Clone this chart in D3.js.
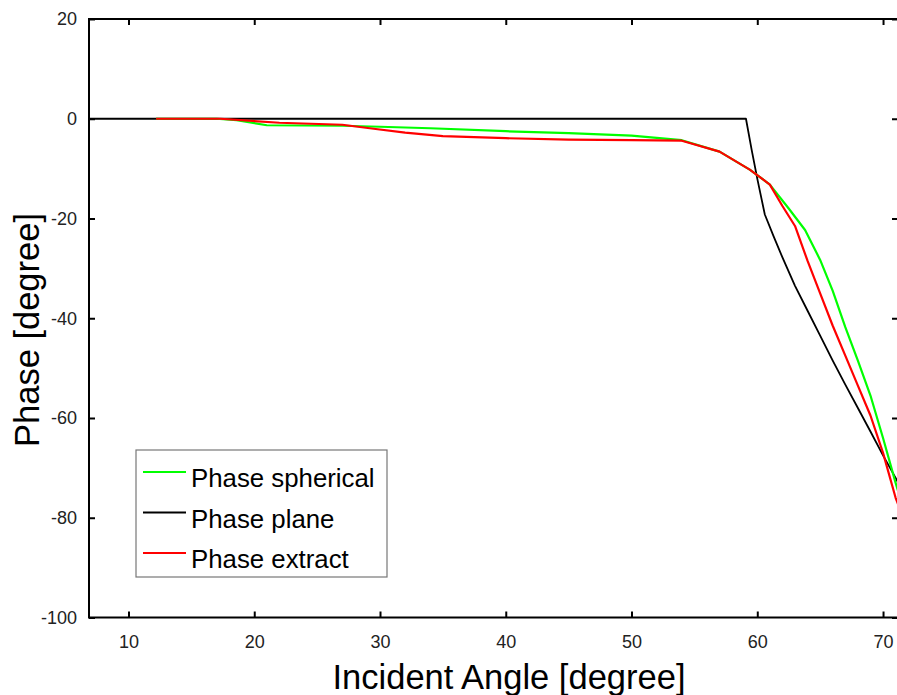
<!DOCTYPE html>
<html>
<head>
<meta charset="utf-8">
<script src="https://cdn.jsdelivr.net/npm/d3@7"></script>
<style>
  body { margin: 0; background: #fff; }
  svg { display: block; font-family: "Liberation Sans", Arial, sans-serif; }
</style>
</head>
<body>
<div id="chart"></div>
<script>
// series values: [angle, phase]
const phaseSpherical = [
    [12.2, 0], [17, 0], [18.6, -0.3], [21, -1.3], [27, -1.4], [30, -1.6], [34, -1.9],
    [40, -2.5], [45, -2.9], [50, -3.4], [54, -4.3], [57, -6.6], [59.4, -10.2], [61, -13.2],
    [62.5, -18], [63.8, -22.3], [65, -28.3], [66, -34.5], [67, -41.8], [68, -48.5],
    [69, -55.5], [70, -64], [71, -73], [71.3, -75.5]
];
const phasePlane = [
    [6.86, 0], [59.1, 0], [59.55, -6.2], [60, -12], [60.6, -19.2], [61.3, -23.6], [62, -27.8],
    [63, -33.5], [64, -38.5], [65, -43.5], [66, -48.5], [67, -53.3], [68, -58], [69, -62.7],
    [70, -67.5], [71, -72], [71.3, -73.5]
];
const phaseExtract = [
    [12.2, 0], [17.3, 0], [22, -0.8], [27, -1.2], [29.5, -2.0], [32, -2.8], [35, -3.5],
    [40, -3.9], [45, -4.2], [50, -4.3], [54, -4.4], [57, -6.6], [59.4, -10.2], [61, -13.2],
    [62, -17.5], [63, -21.5], [64, -28.5], [65, -35], [66, -41.5], [67, -47.5], [68, -53.5],
    [69, -59.5], [70, -67], [71, -76], [71.3, -78]
];
const seriesNames = ["Phase spherical", "Phase plane", "Phase extract"];
const seriesColors = ["#00ff00", "#000000", "#ff0000"];
const xTicks = [10, 20, 30, 40, 50, 60, 70];
const yTicks = [20, 0, -20, -40, -60, -80, -100];

const width = 897;
const height = 695;
// plot box (right edge sits just outside the picture, like the source crop)
let box = { left: 89, right: 898, top: 19, bottom: 617.5 };

let svg = d3.select("#chart")
    .append("svg")
    .attr("width", width)
    .attr("height", height);

let x = d3.scaleLinear().domain([6.86, 71.19]).range([box.left, box.right]);
let y = d3.scaleLinear().domain([-100, 20]).range([box.bottom, box.top]);

// clip lines to the plot box
svg.append("clipPath").attr("id", "clip")
    .append("rect")
    .attr("x", box.left).attr("y", box.top)
    .attr("width", box.right - box.left).attr("height", box.bottom - box.top);

let tickLen = 6;
// plain hyphen for negatives, as in the source
let fmt = d => String(d);

// bottom axis with labels, ticks pointing inward
svg.append("g")
    .attr("transform", `translate(0,${box.bottom})`)
    .call(d3.axisBottom(x).tickValues(xTicks).tickSize(-tickLen).tickPadding(18).tickFormat(fmt))
    .call(g => g.select(".domain").remove())
    .call(g => g.selectAll("line").attr("stroke", "#000").attr("stroke-width", 2))
    .call(g => g.selectAll("text").attr("font-size", 18).attr("fill", "#222").attr("font-family", null));

// top axis, ticks only
svg.append("g")
    .attr("transform", `translate(0,${box.top})`)
    .call(d3.axisTop(x).tickValues(xTicks).tickSize(-tickLen).tickFormat(""))
    .call(g => g.select(".domain").remove())
    .call(g => g.selectAll("line").attr("stroke", "#000").attr("stroke-width", 2));

// left axis with labels
svg.append("g")
    .attr("transform", `translate(${box.left},0)`)
    .call(d3.axisLeft(y).tickValues(yTicks).tickSize(-tickLen).tickPadding(12).tickFormat(fmt))
    .call(g => g.select(".domain").remove())
    .call(g => g.selectAll("line").attr("stroke", "#000").attr("stroke-width", 2))
    .call(g => g.selectAll("text").attr("font-size", 18).attr("fill", "#222").attr("font-family", null));

// right axis, ticks only
svg.append("g")
    .attr("transform", `translate(${box.right},0)`)
    .call(d3.axisRight(y).tickValues(yTicks).tickSize(-tickLen).tickFormat(""))
    .call(g => g.select(".domain").remove())
    .call(g => g.selectAll("line").attr("stroke", "#000").attr("stroke-width", 2));

// data lines
let line = d3.line().x(d => x(d[0])).y(d => y(d[1]));
let allSeries = [phaseSpherical, phasePlane, phaseExtract];
let drawOrder = [1, 0, 2];
drawOrder.forEach(i => {
    svg.append("path")
        .datum(allSeries[i])
        .attr("clip-path", "url(#clip)")
        .attr("fill", "none")
        .attr("stroke", seriesColors[i])
        .attr("stroke-width", i == 1 ? 1.8 : 2.2)
        .attr("stroke-linejoin", "round")
        .attr("d", line);
});

// plot box frame
svg.append("rect")
    .attr("x", box.left).attr("y", box.top)
    .attr("width", box.right - box.left).attr("height", box.bottom - box.top)
    .attr("fill", "none")
    .attr("stroke", "#000")
    .attr("stroke-width", 2);

// axis titles
svg.append("text")
    .attr("x", 509)
    .attr("y", 689)
    .attr("text-anchor", "middle")
    .attr("font-size", 34.5)
    .attr("fill", "#000")
    .text("Incident Angle [degree]");

svg.append("text")
    .attr("transform", "translate(39,330) rotate(-90)")
    .attr("text-anchor", "middle")
    .attr("font-size", 34.5)
    .attr("fill", "#000")
    .text("Phase [degree]");

// legend
let legend = svg.append("g").attr("transform", "translate(136,450)");
legend.append("rect")
    .attr("x", 0).attr("y", 0)
    .attr("width", 251).attr("height", 127)
    .attr("fill", "#fff")
    .attr("stroke", "#777")
    .attr("stroke-width", 1.2);

seriesNames.forEach((name, i) => {
    let ly = 22 + i * 40.5;
    legend.append("line")
        .attr("x1", 7).attr("x2", 50)
        .attr("y1", ly).attr("y2", ly)
        .attr("stroke", seriesColors[i])
        .attr("stroke-width", 2.2);
    legend.append("text")
        .attr("x", 55)
        .attr("y", ly + 15)
        .attr("font-size", 25.8)
        .attr("fill", "#000")
        .text(name);
});
</script>
</body>
</html>
